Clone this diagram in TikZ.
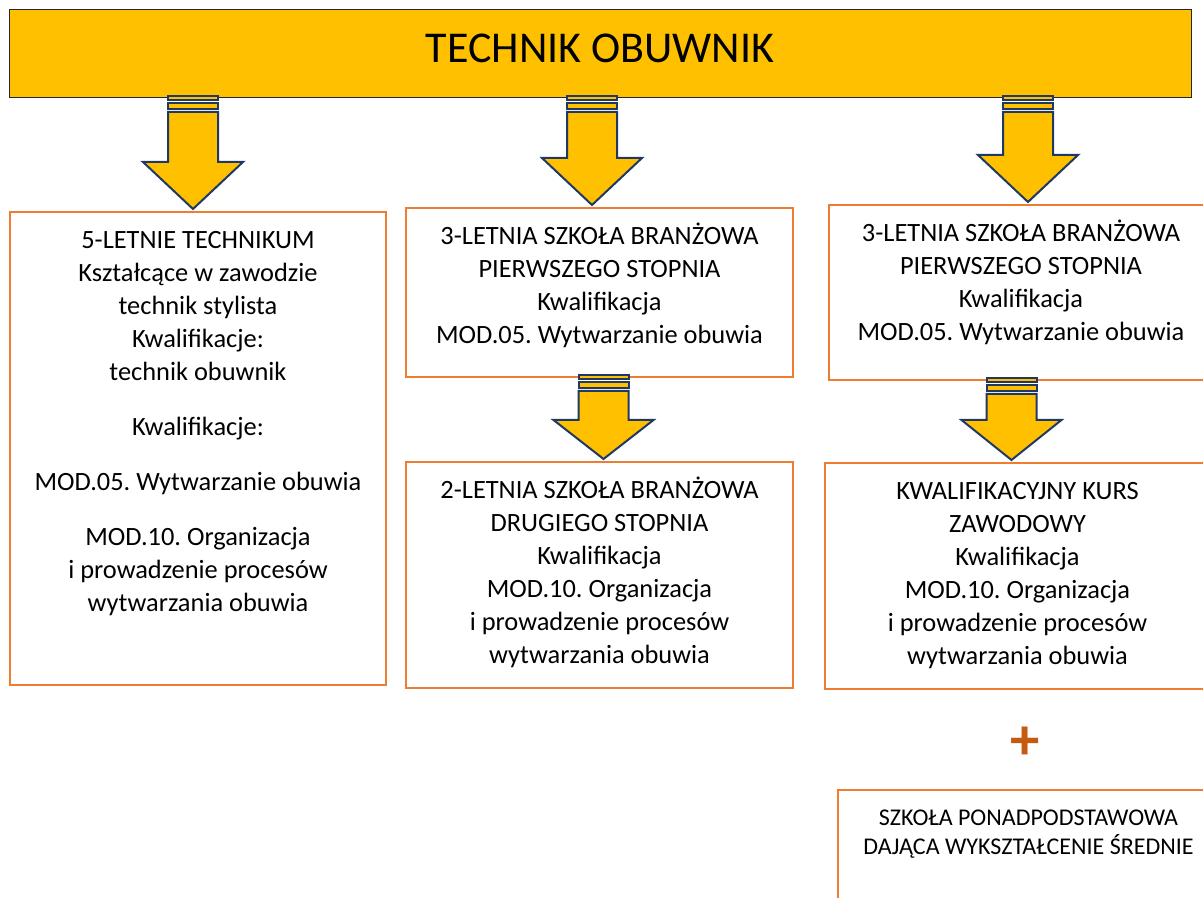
\documentclass[tikz,border=0pt]{standalone}
\usepackage{fontspec}
\setmainfont{Carlito}
\usepackage{tikz}
\usetikzlibrary{calc}
\frenchspacing

\definecolor{gold}{HTML}{FFC000}
\definecolor{navy}{HTML}{1F3864}
\definecolor{frame}{HTML}{ED7D31}
\definecolor{rust}{HTML}{C55A11}

\def\px{0.75pt}
\newcommand{\boxfont}{\fontsize{19.8}{24.75}\selectfont}
\newcommand{\smallboxfont}{\fontsize{18}{21.75}\selectfont}

% striped block arrow: x, from node, to node, head length
\newcommand{\fatarrow}[4]{
  \coordinate (top) at (#1,0 |- #2.south);
  \coordinate (tip) at (#1,0 |- #3.north);
  \draw[arrowline] ($(top)+(-25,-2)$) rectangle ($(top)+(25,2)$);
  \draw[arrowline] ($(top)+(-25,5)$) rectangle ($(top)+(25,11)$);
  \draw[arrowline] ($(top)+(-25,14)$) -- ($(top)+(25,14)$) -- ($(tip)+(25,-#4)$) -- ($(tip)+(50,-#4)$)
    -- ($(tip)+(0,-3)$) -- ($(tip)+(-50,-#4)$) -- ($(tip)+(-25,-#4)$) -- cycle;
}

\begin{document}
\begin{tikzpicture}[x=0.75pt, y=-0.75pt,
  banner/.style={draw=black!85, line width=0.75pt, fill=gold, inner sep=0, outer sep=0, anchor=north west},
  box/.style={draw=frame, line width=1.75pt, fill=white, inner sep=0, outer sep=0, anchor=north west},
  boxtext/.style={font=\boxfont, align=center, inner sep=0, anchor=north},
  arrowline/.style={draw=navy, line width=1.5pt, fill=gold, line join=miter}]

  \useasboundingbox (0,0) rectangle (1203,898);

  \node[banner, minimum width=1182*\px, minimum height=88*\px] (banner) at (9,10) {};
  \node[font=\fontsize{33}{40}\selectfont, inner sep=0] (title) at (600,48) {TECHNIK OBUWNIK};

  \node[box, minimum width=376*\px, minimum height=473*\px] (tech) at (10,212) {};
  \node[boxtext] (techtxt) at ([yshift=-13.5*\px]tech.north) {\strut 5-LETNIE TECHNIKUM\\ Kształcące w zawodzie\\ technik stylista\\ Kwalifikacje:\\ technik obuwnik\\[16.5pt] Kwalifikacje:\\[16.5pt] MOD.05. Wytwarzanie obuwia\\[16.5pt] MOD.10. Organizacja\\ i prowadzenie procesów\\ wytwarzania obuwia};

  \node[box, minimum width=387*\px, minimum height=169*\px] (bsone) at (406,208) {};
  \node[boxtext] (bsonetxt) at ([yshift=-13.5*\px]bsone.north) {\strut 3-LETNIA SZKOŁA BRANŻOWA\\ PIERWSZEGO STOPNIA\\ Kwalifikacja\\ MOD.05. Wytwarzanie obuwia};

  \node[box, minimum width=384*\px, minimum height=175*\px] (bsonex) at (829,205) {};
  \node[boxtext] (bsonextxt) at ([yshift=-13.5*\px]bsonex.north) {\strut 3-LETNIA SZKOŁA BRANŻOWA\\ PIERWSZEGO STOPNIA\\ Kwalifikacja\\ MOD.05. Wytwarzanie obuwia};

  \node[box, minimum width=387*\px, minimum height=226*\px] (bstwo) at (406,462) {};
  \node[boxtext] (bstwotxt) at ([yshift=-13.5*\px]bstwo.north) {\strut 2-LETNIA SZKOŁA BRANŻOWA\\ DRUGIEGO STOPNIA\\ Kwalifikacja\\ MOD.10. Organizacja\\ i prowadzenie procesów\\ wytwarzania obuwia};

  \node[box, minimum width=385*\px, minimum height=226*\px] (kkz) at (825,463) {};
  \node[boxtext] (kkztxt) at ([yshift=-13.5*\px]kkz.north) {\strut KWALIFIKACYJNY KURS\\ ZAWODOWY\\ Kwalifikacja\\ MOD.10. Organizacja\\ i prowadzenie procesów\\ wytwarzania obuwia};

  \node[font=\fontsize{44}{52}\selectfont\bfseries, text=rust, inner sep=0] (plus) at (1025,743) {+};

  \node[box, minimum width=381*\px, minimum height=200*\px] (ponad) at (838,790) {};
  \node[boxtext, font=\smallboxfont] (ponadtxt) at ([yshift=-15.2*\px]ponad.north) {\strut SZKOŁA PONADPODSTAWOWA\\ DAJĄCA WYKSZTAŁCENIE ŚREDNIE};

  \fatarrow{193}{banner}{tech}{50}
  \fatarrow{592}{banner}{bsone}{50}
  \fatarrow{1028}{banner}{bsonex}{50}
  \fatarrow{603.5}{bsone}{bstwo}{42}
  \fatarrow{1011.5}{bsonex}{kkz}{43}

\end{tikzpicture}
\end{document}
